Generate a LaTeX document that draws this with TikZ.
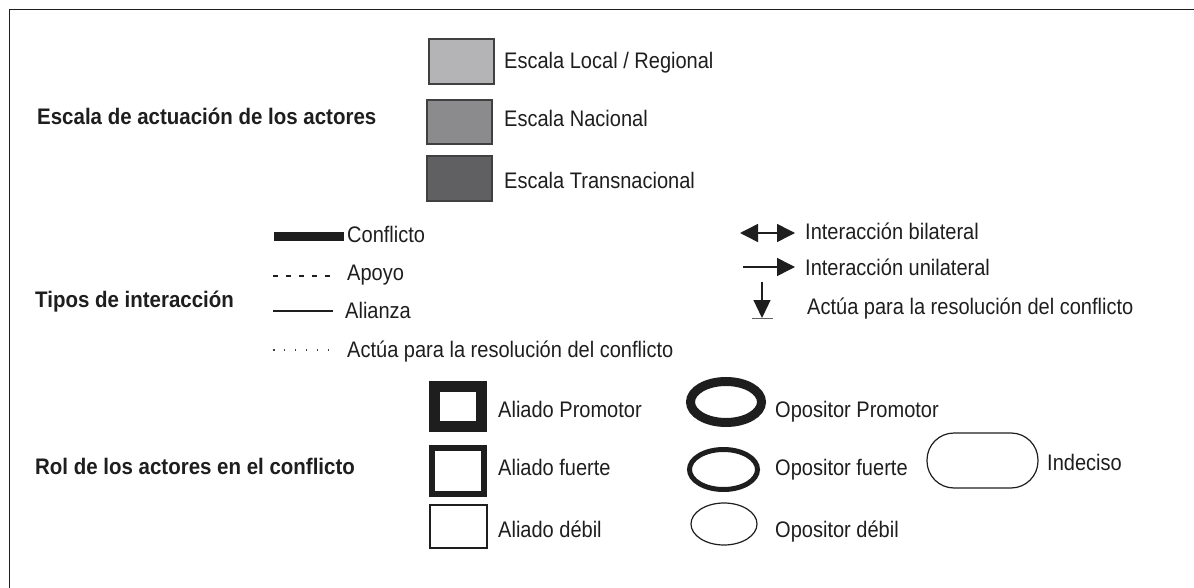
\documentclass[tikz,border=0pt]{standalone}
\usepackage{fontspec}
\setmainfont{Liberation Sans}[FakeStretch=0.89,BoldFeatures={FakeStretch=0.91}]
\usetikzlibrary{arrows.meta}
\definecolor{ink}{HTML}{1E1E1E}
\definecolor{gA}{HTML}{B4B4B6}
\definecolor{gB}{HTML}{8B8B8D}
\definecolor{gC}{HTML}{606062}
\begin{document}
\begin{tikzpicture}[x=1pt,y=-1pt,
  lbl/.style={anchor=base west,inner sep=0pt,text=ink,font=\fontsize{22.5}{25}\selectfont},
  ttl/.style={lbl,font=\fontsize{22.5}{25}\selectfont\bfseries},
  scalebox/.style={draw=ink!85,line width=1.5pt}
]
\useasboundingbox (0,0) rectangle (1194,588);
% frame
\draw[line width=1.6pt,ink] (9.5,588) -- (9.5,9.5) -- (1194,9.5);

% titles
\node[ttl] (t1) at (37,125) {Escala de actuación de los actores};
\node[ttl] (t2) at (35,307) {Tipos de interacción};
\node[ttl] (t3) at (35,474) {Rol de los actores en el conflicto};

% scale boxes
\draw[scalebox,fill=gA] (429,39) rectangle (494,84);
\draw[scalebox,fill=gB] (427,100) rectangle (492,144);
\draw[scalebox,fill=gC] (427,156) rectangle (492,201);
\node[lbl] (s1) at (504,69) {Escala Local / Regional};
\node[lbl] (s2) at (504,127) {Escala Nacional};
\node[lbl] (s3) at (504,189) {Escala Transnacional};

% interaction types
\coordinate (c1) at (274,236.5); \coordinate (c2) at (344,236.5);
\draw[line width=9pt,ink] (c1) -- (c2);
\node[lbl] (i1) at (347,243) {Conflicto};
\coordinate (a1) at (273,276); \coordinate (a2) at (330,276);
\draw[line width=1.3pt,ink,dash pattern=on 5pt off 8pt] (a1) -- (a2);
\node[lbl] (i2) at (347,280) {Apoyo};
\coordinate (l1) at (273,311); \coordinate (l2) at (333,311);
\draw[line width=1.7pt,ink] (l1) -- (l2);
\node[lbl] (i3) at (345,318) {Alianza};
\coordinate (d1) at (273,350); \coordinate (d2) at (329,350);
\draw[line width=1.7pt,ink!85,dash pattern=on 1.5pt off 9.4pt] (d1) -- (d2);
\node[lbl] (i4) at (347,357) {Actúa para la resolución del conflicto};

% arrows
\coordinate (b1) at (740,233); \coordinate (b2) at (795,233);
\draw[line width=1.5pt,ink,{Triangle[length=18pt,width=18pt]}-{Triangle[length=18pt,width=18pt]}] (b1) -- (b2);
\node[lbl] (r1) at (805,240) {Interacción bilateral};
\coordinate (u1) at (743,267); \coordinate (u2) at (795,267);
\draw[line width=1.5pt,ink,-{Triangle[length=18pt,width=18pt]}] (u1) -- (u2);
\node[lbl] (r2) at (805,276) {Interacción unilateral};
\coordinate (v1) at (762,282); \coordinate (v2) at (762,318);
\draw[line width=1.3pt,ink,-{Triangle[length=18pt,width=17pt]}] (v1) -- (v2);
\coordinate (h1) at (752,318.5); \coordinate (h2) at (773,318.5);
\draw[line width=1.2pt,ink!70] (h1) -- (h2);
\node[lbl] (r3) at (807,314) {Actúa para la resolución del conflicto};

% roles: allies
\draw[line width=11pt,ink] (434.5,386.5) rectangle (481.5,426.5);
\node[lbl] (p1) at (498,417) {Aliado Promotor};
\draw[line width=6pt,ink] (432,448) rectangle (484,494);
\node[lbl] (p2) at (498,475) {Aliado fuerte};
\draw[line width=1.2pt,ink] (430,505) rectangle (487,548);
\node[lbl] (p3) at (498,537) {Aliado débil};

% roles: opponents
\draw[line width=9pt,ink] (726,402) ellipse [x radius=35.5, y radius=20.5];
\node[lbl] (o1) at (775,417) {Opositor Promotor};
\draw[line width=5pt,ink] (723.5,469.5) ellipse [x radius=34, y radius=20];
\node[lbl] (o2) at (775,475) {Opositor fuerte};
\draw[line width=1.2pt,ink] (724,524) ellipse [x radius=33, y radius=21];
\node[lbl] (o3) at (775,537) {Opositor débil};

% undecided
\draw[line width=1.2pt,ink,rounded corners=27pt] (927,433) rectangle (1038,488);
\node[lbl] (ind) at (1047,470) {Indeciso};
\end{tikzpicture}
\end{document}
